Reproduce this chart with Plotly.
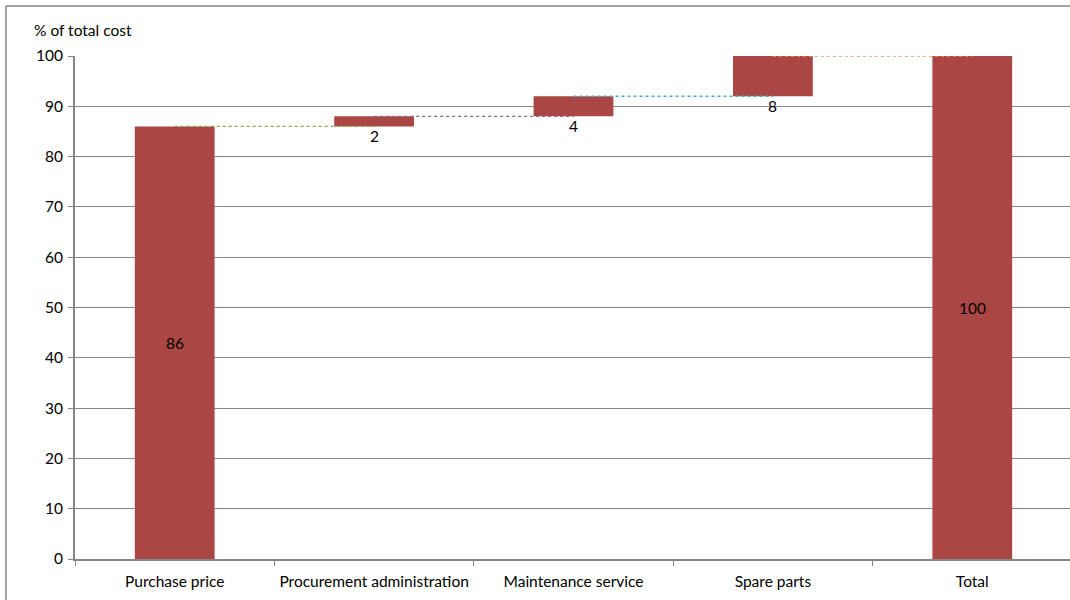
import plotly.graph_objects as go

# Cost breakdown (percent of total cost of ownership)
categories = ["Purchase price", "Procurement administration", "Maintenance service",
              "Spare parts", "Total"]
values = [86, 2, 4, 8, 100]
is_total = [False, False, False, False, True]
connector_colors = ["#89A54E", "#80699B", "#4BACC6", "#F79646"]
y_ticks = [0, 10, 20, 30, 40, 50, 60, 70, 80, 90, 100]

# Floating bar bases: running sum for step bars, zero for start and total
bases = []
running = 0
for i, (v, tot) in enumerate(zip(values, is_total)):
    if tot or i == 0:
        bases.append(0)
    else:
        bases.append(running)
    running = v if tot else running + v

BAR_COLOR = "#AA4643"
FONT = "Lato"
FS = 15.5

fig = go.Figure()

fig.add_trace(go.Bar(
    x=categories, y=values, base=bases, width=0.4,
    marker=dict(color=BAR_COLOR, line=dict(width=0)),
    hoverinfo="skip", showlegend=False,
))

# Dashed connectors from centre of one bar to centre of the next
for i in range(len(categories) - 1):
    level = bases[i] + values[i]
    fig.add_trace(go.Scatter(
        x=[categories[i], categories[i + 1]], y=[level, level],
        mode="lines", line=dict(color=connector_colors[i], width=1.3, dash="dot"),
        hoverinfo="skip", showlegend=False,
    ))

# Value labels: centred inside full-height bars, below floating bars
value_labels = []
for c, v, b in zip(categories, values, bases):
    if b == 0:
        value_labels.append(dict(
            x=c, y=b + v / 2, xref="x", yref="y", text=str(v),
            showarrow=False, xanchor="center", yanchor="middle",
            font=dict(family=FONT, size=FS, color="#000000"),
        ))
    else:
        value_labels.append(dict(
            x=c, y=b, xref="x", yref="y", text=str(v),
            showarrow=False, xanchor="center", yanchor="top", yshift=1,
            font=dict(family=FONT, size=FS, color="#000000"),
        ))

L, T, B = 75, 56, 41
W, H = 1070, 600
plot_w = W - L
plot_h = H - T - B

def px_x(px):
    return (px - L) / plot_w

def px_y(py):
    return 1 + (T - py) / plot_h

fig.update_layout(
    width=W, height=H,
    margin=dict(l=L, r=0, t=T, b=B, pad=0),
    paper_bgcolor="white", plot_bgcolor="white",
    font=dict(family=FONT, size=FS, color="#000000"),
    bargap=0.6,
    xaxis=dict(
        type="category", range=[-0.5, 4.49],
        showline=True, linecolor="#868686", linewidth=2,
        ticks="outside", tickson="boundaries", ticklen=5, tickcolor="#868686",
        ticklabelstandoff=7,
        showgrid=False, tickfont=dict(family=FONT, size=FS, color="#000000"),
    ),
    yaxis=dict(
        range=[0, 100], tickvals=y_ticks,
        showline=True, linecolor="#868686", linewidth=2,
        ticks="outside", ticklen=5, tickcolor="#868686",
        ticklabelstandoff=2,
        showgrid=True, gridcolor="#868686", gridwidth=1,
        zeroline=False, tickfont=dict(family=FONT, size=FS, color="#000000"),
    ),
    annotations=value_labels + [dict(
        text="% of total cost", xref="paper", yref="paper",
        x=px_x(32), y=px_y(30), xanchor="left", yanchor="middle",
        showarrow=False, font=dict(family=FONT, size=FS, color="#000000"),
    )],
    shapes=[
        dict(type="line", xref="paper", yref="paper",
             x0=px_x(6), x1=px_x(6), y0=px_y(6), y1=px_y(620),
             line=dict(color="#868686", width=1.5)),
        dict(type="line", xref="paper", yref="paper",
             x0=px_x(6), x1=px_x(1080), y0=px_y(6), y1=px_y(6),
             line=dict(color="#868686", width=1.5)),
    ],
)

fig.write_html("out.html")
